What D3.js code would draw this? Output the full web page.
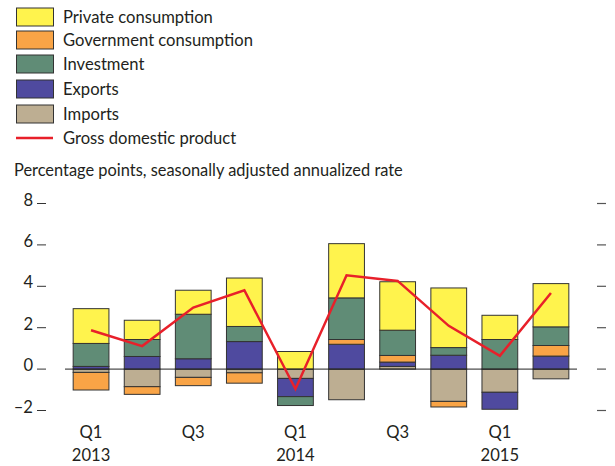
<!DOCTYPE html>
<html>
<head>
<meta charset="utf-8">
<script src="https://cdn.jsdelivr.net/npm/d3@7"></script>
<style>
  body { margin: 0; background: #fff; }
  svg { display: block; font-family: Lato, "Open Sans", sans-serif; }
</style>
</head>
<body>
<div id="root"></div>
<script>
// quarters and contributions (percentage points)
const quarters = ["2013Q1", "2013Q2", "2013Q3", "2013Q4", "2014Q1", "2014Q2", "2014Q3", "2014Q4", "2015Q1", "2015Q2"];
const privateCons = [1.68, 0.93, 1.16, 2.34, 0.85, 2.62, 2.34, 2.88, 1.17, 2.09];
const govCons     = [-0.85, -0.37, -0.40, -0.50, 0.00, 0.23, 0.32, -0.27, 0.00, 0.51];
const investment  = [1.11, 0.82, 2.15, 0.73, -0.43, 2.01, 1.22, 0.37, 1.43, 0.90];
const exportsC    = [0.13, 0.61, 0.50, 1.33, -0.88, 1.20, 0.21, 0.67, -0.82, 0.63];
const importsC    = [-0.16, -0.85, -0.40, -0.18, -0.45, -1.48, 0.13, -1.56, -1.12, -0.47];
const gdp         = [1.88, 1.11, 2.97, 3.81, -0.96, 4.53, 4.26, 2.09, 0.64, 3.68];
const yTicks = [-2, 0, 2, 4, 6, 8];
const xLabels = [["2013Q1", "Q1", "2013"], ["2013Q3", "Q3", ""], ["2014Q1", "Q1", "2014"], ["2014Q3", "Q3", ""], ["2015Q1", "Q1", "2015"]];

const series = [
  { key: "imports", name: "Imports", color: "#bdae92", values: importsC },
  { key: "exports", name: "Exports", color: "#4f4a9f", values: exportsC },
  { key: "gov", name: "Government consumption", color: "#f9a446", values: govCons },
  { key: "inv", name: "Investment", color: "#608c76", values: investment },
  { key: "priv", name: "Private consumption", color: "#fff34d", values: privateCons }
];
const legendOrder = ["priv", "gov", "inv", "exports", "imports"];

const w = 615, h = 466;
const ink = "#231f20";
const svg = d3.select("#root").append("svg").attr("width", w).attr("height", h);

// legend
const legend = svg.append("g");
const rowY = [17, 40, 64, 89, 114];
legendOrder.forEach((k, i) => {
  const s = series.find(d => d.key === k);
  legend.append("rect")
    .attr("x", 16.5).attr("y", rowY[i] - 9).attr("width", 37).attr("height", 18)
    .attr("fill", s.color).attr("stroke", "#333").attr("stroke-width", 1);
  legend.append("text")
    .attr("x", 63).attr("y", rowY[i]).attr("dy", "0.35em")
    .attr("font-size", 16.6).attr("fill", ink)
    .text(s.name);
});
legend.append("line")
  .attr("x1", 16).attr("x2", 53).attr("y1", 138).attr("y2", 138)
  .attr("stroke", "#e8202a").attr("stroke-width", 2.5);
legend.append("text")
  .attr("x", 63).attr("y", 138).attr("dy", "0.35em")
  .attr("font-size", 16.6).attr("fill", ink)
  .text("Gross domestic product");

svg.append("text")
  .attr("x", 14).attr("y", 170).attr("dy", "0.35em")
  .attr("font-size", 16.4).attr("fill", ink)
  .text("Percentage points, seasonally adjusted annualized rate");

// scales
const x = d3.scaleBand().domain(quarters).range([65.5, 576.5]).paddingInner(0.3).paddingOuter(0.15);
const y = d3.scaleLinear().domain([-2, 8]).range([410.5, 203.5]);

// ticks left and right
const ticks = svg.append("g");
yTicks.forEach(t => {
  ticks.append("line").attr("x1", 37).attr("x2", 46).attr("y1", y(t)).attr("y2", y(t))
    .attr("stroke", "#333").attr("stroke-width", 1);
  ticks.append("line").attr("x1", 597).attr("x2", 606).attr("y1", y(t)).attr("y2", y(t))
    .attr("stroke", "#555").attr("stroke-width", 1.2);
  ticks.append("text").attr("x", 33).attr("y", y(t) + 2).attr("text-anchor", "end")
    .attr("font-size", 16.6).attr("fill", ink)
    .text(t < 0 ? "\u2013" + Math.abs(t) : t);
});

// stacked bars
const table = quarters.map((q, i) => {
  const row = { q };
  series.forEach(s => row[s.key] = s.values[i]);
  return row;
});
const stack = d3.stack().keys(series.map(s => s.key)).offset(d3.stackOffsetDiverging);
const layers = stack(table);

svg.append("g").selectAll("g")
  .data(layers)
  .join("g")
  .attr("fill", (d, i) => series[i].color)
  .selectAll("rect")
  .data(d => d.filter(v => Math.abs(v[1] - v[0]) > 0.001))
  .join("rect")
  .attr("x", d => x(d.data.q))
  .attr("width", x.bandwidth())
  .attr("y", d => y(Math.max(d[0], d[1])))
  .attr("height", d => Math.abs(y(d[0]) - y(d[1])))
  .attr("stroke", "#333")
  .attr("stroke-width", 1);

// zero line
svg.append("line").attr("x1", 65).attr("x2", 577).attr("y1", y(0)).attr("y2", y(0))
  .attr("stroke", "#222").attr("stroke-width", 1);

// gdp line
const line = d3.line().x((d, i) => x(quarters[i]) + x.bandwidth() / 2).y(d => y(d));
svg.append("path").attr("d", line(gdp))
  .attr("fill", "none").attr("stroke", "#e8202a").attr("stroke-width", 2.5)
  .attr("stroke-linejoin", "miter");

// x labels
xLabels.forEach(([q, a, b]) => {
  const cx = x(q) + x.bandwidth() / 2;
  svg.append("text").attr("x", cx).attr("y", 432).attr("dy", "0.35em")
    .attr("text-anchor", "middle").attr("font-size", 16.6).attr("fill", ink).text(a);
  if (b) svg.append("text").attr("x", cx).attr("y", 455).attr("dy", "0.35em")
    .attr("text-anchor", "middle").attr("font-size", 16.6).attr("fill", ink).text(b);
});
</script>
</body>
</html>
